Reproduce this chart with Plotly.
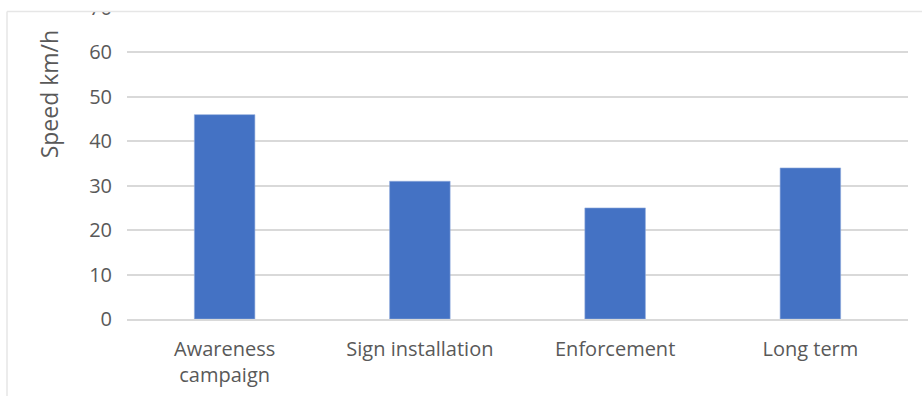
import plotly.graph_objects as go

# Average speed measured in each phase of the campaign
phases = ["Awareness<br>campaign", "Sign installation", "Enforcement", "Long term"]
speeds = [46, 31, 25, 34]
y_ticks = [0, 10, 20, 30, 40, 50, 60, 70]

W, H = 922, 396
plot_left, plot_right = 127, 908
plot_top, plot_bottom = 7.5, 319
plot_w = plot_right - plot_left
plot_h = plot_bottom - plot_top

text_grey = "#595959"
grid_grey = "#d9d9d9"
frame_grey = "#e6e6e6"
font_family = "Open Sans, Lato, sans-serif"


def px_x(x):
    return (x - plot_left) / plot_w


def px_y(y):
    return (plot_bottom - y) / plot_h


fig = go.Figure(
    go.Bar(
        x=phases,
        y=speeds,
        marker=dict(color="#4472C4", line=dict(color="#8eaadb", width=0.6)),
        hoverinfo="x+y",
    )
)

fig.update_layout(
    width=W,
    height=H,
    margin=dict(l=plot_left, r=W - plot_right, t=plot_top, b=H - plot_bottom, pad=0),
    paper_bgcolor="white",
    plot_bgcolor="white",
    bargap=0.69,
    showlegend=False,
    font=dict(family=font_family, size=20, color=text_grey),
    xaxis=dict(
        automargin=False,
        showgrid=False,
        showline=True,
        linecolor=grid_grey,
        linewidth=1.5,
        ticks="",
        tickfont=dict(size=20, color=text_grey),
        ticklabelstandoff=11,
    ),
    yaxis=dict(
        automargin=False,
        range=[0, 70],
        tickvals=y_ticks,
        showgrid=True,
        gridcolor=grid_grey,
        gridwidth=1.5,
        zeroline=False,
        showline=False,
        ticks="",
        tickfont=dict(size=20, color=text_grey),
        ticklabelstandoff=14,
        ticklabeloverflow="allow",
    ),
    shapes=[
        # white band hiding the top of the chart above the frame line
        dict(type="rect", xref="paper", yref="paper",
             x0=px_x(-5), x1=px_x(W + 5), y0=px_y(11), y1=px_y(-5),
             fillcolor="white", line=dict(width=0), layer="above"),
        # frame: top edge
        dict(type="line", xref="paper", yref="paper",
             x0=px_x(7), x1=px_x(W + 5), y0=px_y(11), y1=px_y(11),
             line=dict(color=frame_grey, width=1.5), layer="above"),
        # frame: left edge
        dict(type="line", xref="paper", yref="paper",
             x0=px_x(7), x1=px_x(7), y0=px_y(11), y1=px_y(H + 5),
             line=dict(color=frame_grey, width=1.5), layer="above"),
    ],
    annotations=[
        dict(text="Speed km/h", xref="paper", yref="paper",
             x=px_x(49), y=px_y(94), textangle=-90, showarrow=False,
             xanchor="center", yanchor="middle",
             font=dict(size=23, color=text_grey, family=font_family)),
    ],
)

fig.write_html("out.html")
